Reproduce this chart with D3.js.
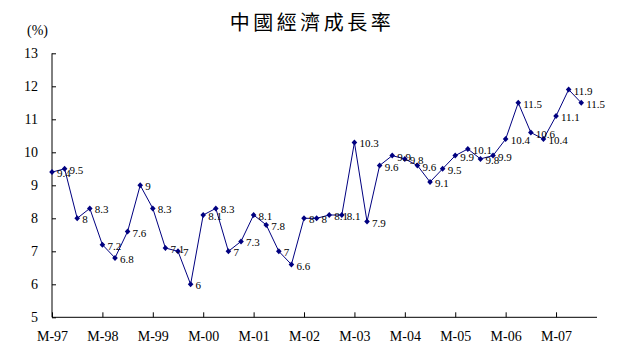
<!DOCTYPE html>
<html>
<head>
<meta charset="utf-8">
<script src="https://cdn.jsdelivr.net/npm/d3@7"></script>
<style>
  html, body { margin: 0; padding: 0; background: #fff; }
  svg { display: block; }
</style>
</head>
<body>
<svg id="chart" width="635" height="357"></svg>
<script>
// ---- data ----
const title = "中國經濟成長率";
const unitLabel = "(%)";
const yearLabels = ["M-97","M-98","M-99","M-00","M-01","M-02","M-03","M-04","M-05","M-06","M-07"];
const yTicks = [5,6,7,8,9,10,11,12,13];
// quarterly GDP growth, 1997 Q1 .. 2007 Q3
const growth = [
  9.4, 9.5, 8, 8.3,
  7.2, 6.8, 7.6, 9,
  8.3, 7.1, 7, 6,
  8.1, 8.3, 7, 7.3,
  8.1, 7.8, 7, 6.6,
  8, 8, 8.1, 8.1,
  10.3, 7.9, 9.6, 9.9,
  9.8, 9.6, 9.1, 9.5,
  9.9, 10.1, 9.8, 9.9,
  10.4, 11.5, 10.6, 10.4,
  11.1, 11.9, 11.5
];
const perYear = 4;

// ---- layout ----
const svg = d3.select("#chart");
const x0 = 52, x1 = 597, yTop = 53.3, yBot = 317.3;
const x = d3.scaleLinear().domain([0, 43.25]).range([x0, x1]);
const y = d3.scaleLinear().domain([5, 13]).range([yBot, yTop]);

// title
svg.append("text")
  .attr("x", 312).attr("y", 30)
  .attr("text-anchor", "middle")
  .attr("font-family", "'Noto Sans CJK TC', 'Noto Sans CJK SC', sans-serif")
  .attr("font-size", 20)
  .attr("letter-spacing", 3.5)
  .attr("fill", "#000")
  .text(title);

// unit label
svg.append("text")
  .attr("x", 27).attr("y", 35)
  .attr("font-family", "'Liberation Serif', 'Times New Roman', serif")
  .attr("font-size", 14)
  .text(unitLabel);

// y axis
const yAxis = d3.axisLeft(y).tickValues(yTicks).tickSize(-4).tickPadding(14).tickFormat(d3.format("d"));
const gy = svg.append("g").attr("transform", `translate(${x0},0)`).call(yAxis);
gy.select(".domain").attr("d", `M0,${yTop}V${yBot}`).attr("stroke", "#000");
gy.selectAll(".tick line").attr("stroke", "#000");
gy.selectAll(".tick text")
  .attr("font-family", "'Liberation Serif', 'Times New Roman', serif")
  .attr("font-size", 14).attr("fill", "#000");

// x axis
const tickIdx = yearLabels.map((_, i) => i * perYear);
const xAxis = d3.axisBottom(x).tickValues(tickIdx).tickSize(-5).tickPadding(14)
  .tickFormat((d, i) => yearLabels[i]);
const gx = svg.append("g").attr("transform", `translate(0,${yBot})`).call(xAxis);
gx.select(".domain").attr("d", `M${x0},0H${x1}`).attr("stroke", "#000");
gx.selectAll(".tick line").attr("stroke", "#000");
gx.selectAll(".tick text")
  .attr("font-family", "'Liberation Serif', 'Times New Roman', serif")
  .attr("font-size", 14).attr("fill", "#000");

// line
const color = "#000080";
const line = d3.line().x((d, i) => x(i)).y(d => y(d));
svg.append("path").datum(growth)
  .attr("d", line).attr("fill", "none").attr("stroke", color).attr("stroke-width", 1);

// markers (diamonds)
const diamond = { draw(ctx, size) { const w = 2.8, h = 3; ctx.moveTo(0,-h); ctx.lineTo(w,0); ctx.lineTo(0,h); ctx.lineTo(-w,0); ctx.closePath(); } };
svg.append("g").selectAll("path").data(growth).join("path")
  .attr("transform", (d, i) => `translate(${x(i)},${y(d)})`)
  .attr("d", d3.symbol().type(diamond))
  .attr("fill", color);

// data labels
svg.append("g").selectAll("text").data(growth).join("text")
  .attr("x", (d, i) => x(i) + 5)
  .attr("y", d => y(d) + 5)
  .attr("font-family", "'Liberation Serif', 'Times New Roman', serif")
  .attr("font-size", 11)
  .attr("fill", "#000")
  .text(d => d);
</script>
</body>
</html>
